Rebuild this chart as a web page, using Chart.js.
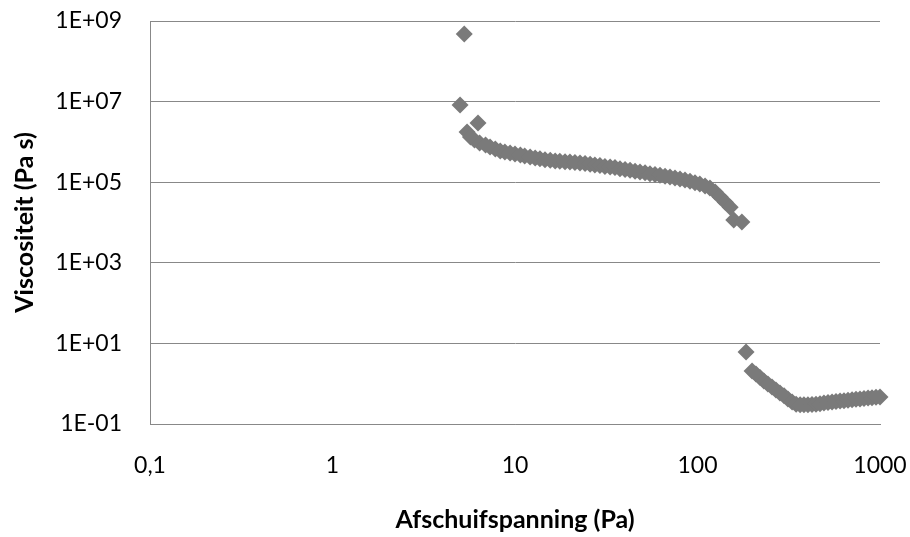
<!DOCTYPE html>
<html>
<head>
<meta charset="utf-8">
<script src="https://cdn.jsdelivr.net/npm/chart.js@4.4.1/dist/chart.umd.min.js"></script>
<style>
  html, body { margin: 0; padding: 0; background: #fff; }
  #wrap { width: 910px; height: 537px; }
</style>
</head>
<body>
<div id="wrap"><canvas id="viscChart" width="910" height="537"></canvas></div>
<script>
// Afschuifspanning (Pa) en viscositeit (Pa s)
const stressPa = [
    5.27, 5.0, 5.46, 6.27,
    5.7, 6.0, 6.4, 6.9, 7.3, 7.8, 8.3, 8.8, 9.4, 10.0, 10.7, 11.3, 12.1, 12.9,
    13.7, 14.6, 15.6, 16.6, 17.6, 18.8, 20.0, 21.3, 22.7, 24.2, 25.8, 27.4,
    29.2, 31.1, 33.2, 35.3, 37.6, 40.1, 42.7, 45.5, 48.4, 51.6, 54.9, 58.5,
    62.3, 66.4, 70.7, 75.3, 80.2, 85.4, 91.0, 96.9, 103, 110, 117, 125, 133,
    142, 151, 158, 175,
    184.5,
    199, 209, 220, 231, 243, 256, 269, 283, 298, 313, 330, 347, 365, 383, 403,
    424, 446, 469, 493, 519, 546, 574, 604, 635, 668, 703, 739, 777, 817, 860,
    904, 951, 1000
];
const viscosityPas = [
    4.76e8, 8.2e6, 1.76e6, 2.94e6,
    1.32e6, 1.11e6, 9.4e5, 8.4e5, 7.5e5, 6.7e5, 5.95e5, 5.6e5, 5.3e5, 5.0e5,
    4.7e5, 4.5e5, 4.2e5, 4.0e5, 3.8e5, 3.6e5, 3.5e5, 3.36e5, 3.3e5, 3.2e5,
    3.17e5, 3.1e5, 3.0e5, 2.9e5, 2.8e5, 2.67e5, 2.6e5, 2.45e5, 2.38e5, 2.3e5,
    2.15e5, 2.07e5, 1.98e5, 1.88e5, 1.79e5, 1.72e5, 1.63e5, 1.55e5, 1.48e5,
    1.41e5, 1.35e5, 1.27e5, 1.20e5, 1.13e5, 1.05e5, 9.7e4, 9.0e4, 8.0e4,
    7.2e4, 5.7e4, 4.3e4, 3.2e4, 2.4e4, 1.15e4, 1.03e4,
    6.1,
    2.07, 1.74, 1.43, 1.17, 0.98, 0.83, 0.70, 0.59, 0.50, 0.42, 0.35, 0.31,
    0.30, 0.30, 0.30, 0.305, 0.31, 0.32, 0.33, 0.34, 0.35, 0.36, 0.37, 0.38,
    0.39, 0.40, 0.41, 0.42, 0.43, 0.44, 0.45, 0.46, 0.47
];
const xTicks = [0.1, 1, 10, 100, 1000];
const xTickLabels = ['0,1', '1', '10', '100', '1000'];
const yTicks = [0.1, 10, 1e3, 1e5, 1e7, 1e9];
const yTickLabels = ['1E-01', '1E+01', '1E+03', '1E+05', '1E+07', '1E+09'];

const gridGray = '#888888';
const markGray = '#7a7a7a';
const fontFamily = 'Lato, "Open Sans", sans-serif';

const points = stressPa.map((x, i) => ({ x: x, y: viscosityPas[i] }));

const ctx = document.getElementById('viscChart').getContext('2d');
new Chart(ctx, {
    type: 'scatter',
    data: {
        datasets: [{
            data: points,
            pointStyle: 'rectRot',
            pointRadius: 8.5,
            pointHoverRadius: 8.5,
            pointBackgroundColor: markGray,
            pointBorderColor: markGray,
            pointBorderWidth: 0,
            clip: false
        }]
    },
    options: {
        responsive: false,
        animation: false,
        layout: { padding: { left: 0, right: 30, top: 21, bottom: 0 } },
        plugins: {
            legend: { display: false },
            tooltip: { enabled: false }
        },
        scales: {
            x: {
                type: 'logarithmic',
                min: 0.1,
                max: 1000,
                afterBuildTicks: s => { s.ticks = xTicks.map(v => ({ value: v })); },
                afterFit: s => {
                    s.height = 113;
                    s.paddingLeft = 0;
                    s.paddingRight = 0;
                },
                grid: { display: false, drawTicks: false },
                border: { display: true, color: gridGray, width: 1 },
                ticks: {
                    autoSkip: false,
                    maxRotation: 0,
                    padding: 28,
                    color: '#000',
                    font: { family: fontFamily, size: 23 },
                    callback: (v, i) => xTickLabels[i]
                },
                title: {
                    display: true,
                    text: 'Afschuifspanning (Pa)',
                    color: '#000',
                    font: { family: fontFamily, size: 25, weight: 'bold' },
                    padding: { top: 0, bottom: 2 }
                }
            },
            y: {
                type: 'logarithmic',
                min: 0.1,
                max: 1e9,
                afterBuildTicks: s => { s.ticks = yTicks.map(v => ({ value: v })); },
                afterFit: s => {
                    s.width = 150;
                    s.paddingTop = 0;
                    s.paddingBottom = 0;
                },
                grid: { color: gridGray, lineWidth: 1, drawTicks: false },
                border: { display: true, color: gridGray, width: 1 },
                ticks: {
                    autoSkip: false,
                    padding: 28,
                    color: '#000',
                    font: { family: fontFamily, size: 23 },
                    callback: (v, i) => yTickLabels[i]
                },
                title: {
                    display: true,
                    text: 'Viscositeit (Pa s)',
                    color: '#000',
                    font: { family: fontFamily, size: 25, weight: 'bold' },
                    padding: { top: 10, bottom: 0 }
                }
            }
        }
    }
});
</script>
</body>
</html>
